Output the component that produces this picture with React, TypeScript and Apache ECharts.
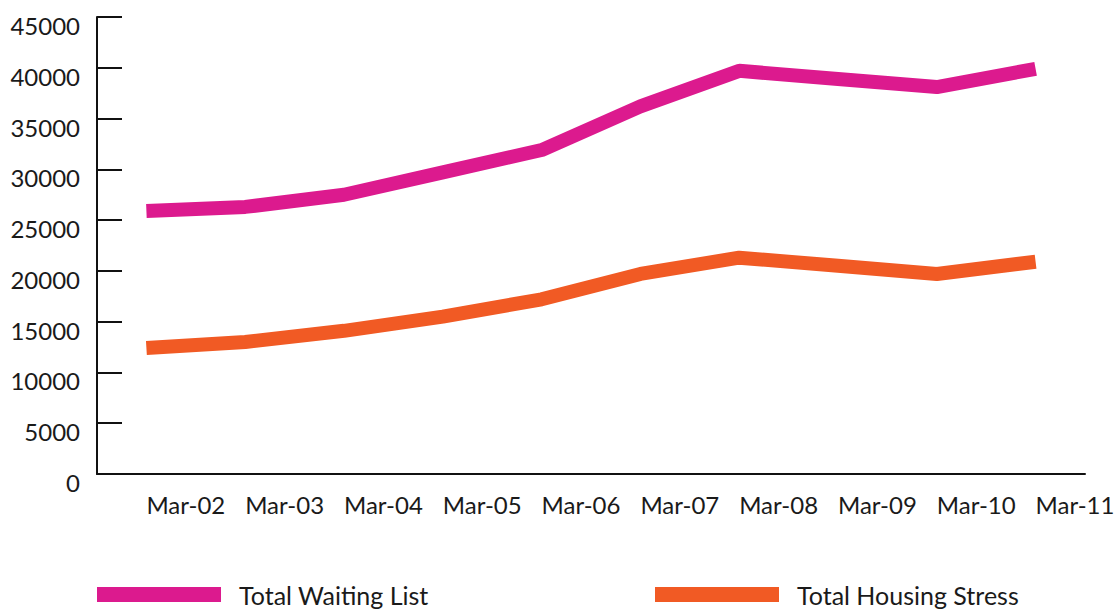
import React, { useEffect, useRef } from "react";
import * as echarts from "echarts";

const categories = ["Mar-02", "Mar-03", "Mar-04", "Mar-05", "Mar-06", "Mar-07", "Mar-08", "Mar-09", "Mar-10", "Mar-11"];
const waitingList = [25900, 26300, 27500, 29700, 31900, 36200, 39700, 38900, 38100, 39900];
const housingStress = [12400, 13000, 14100, 15500, 17200, 19700, 21300, 20500, 19700, 20900];
const yMin = 0;
const yMax = 45000;
const yInterval = 5000;

const FONT = "Lato, 'Open Sans', sans-serif";
const MAGENTA = "#DC1A8E";
const ORANGE = "#F15A24";

export default function App() {
  const ref = useRef<HTMLDivElement>(null);
  useEffect(() => {
    if (!ref.current) return;
    const chart = echarts.init(ref.current, undefined, { renderer: "svg" });
    const legendBase = {
      icon: "rect",
      itemWidth: 124,
      itemHeight: 15,
      top: 582,
      padding: 0,
      selectedMode: false,
      formatter: (name: string) => "{g|}{t|" + name + "}",
      textStyle: {
        fontFamily: FONT,
        fontSize: 25,
        color: "#1a1a1a",
        rich: {
          g: { width: 13 },
          t: { fontFamily: FONT, fontSize: 25, color: "#1a1a1a" },
        },
      },
    };
    chart.setOption({
      animation: false,
      backgroundColor: "#ffffff",
      grid: { left: 97, right: 35, top: 17, bottom: 136, containLabel: false },
      legend: [
        { ...legendBase, left: 97, data: ["Total Waiting List"] },
        { ...legendBase, left: 655, data: ["Total Housing Stress"] },
      ],
      xAxis: {
        type: "category",
        data: categories,
        boundaryGap: true,
        axisLine: { lineStyle: { color: "#111", width: 2 } },
        axisTick: { inside: true, length: 11, lineStyle: { color: "#111", width: 2 } },
        axisLabel: {
          align: "left",
          margin: 18,
          fontFamily: FONT,
          fontSize: 24,
          color: "#1a1a1a",
          interval: 0,
        },
        splitLine: { show: false },
      },
      yAxis: {
        type: "value",
        min: yMin,
        max: yMax,
        interval: yInterval,
        axisLine: { show: true, lineStyle: { color: "#111", width: 2 } },
        axisTick: { show: true, inside: true, length: 25, lineStyle: { color: "#111", width: 2 } },
        axisLabel: {
          margin: 17,
          fontFamily: FONT,
          fontSize: 24,
          color: "#1a1a1a",
          verticalAlign: "top",
          lineHeight: 17,
          formatter: (v: number) => String(v),
        },
        splitLine: { show: false },
      },
      series: [
        {
          name: "Total Waiting List",
          type: "line",
          data: waitingList,
          showSymbol: false,
          color: MAGENTA,
          lineStyle: { color: MAGENTA, width: 14 },
        },
        {
          name: "Total Housing Stress",
          type: "line",
          data: housingStress,
          showSymbol: false,
          color: ORANGE,
          lineStyle: { color: ORANGE, width: 14 },
        },
      ],
    });
    return () => chart.dispose();
  }, []);
  return <div ref={ref} style={{ position: "fixed", left: 0, top: 0, width: 1120, height: 610 }} />;
}
